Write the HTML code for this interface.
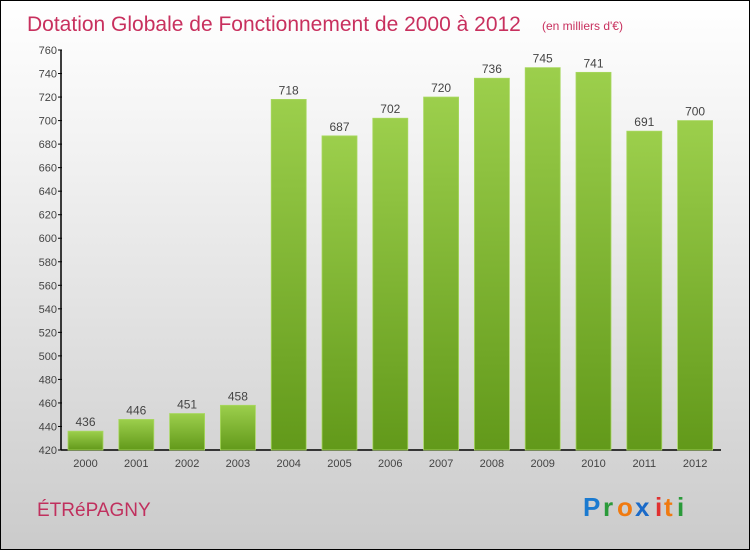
<!DOCTYPE html>
<html><head><meta charset="utf-8"><style>
body{margin:0}
#c{position:relative;width:748px;height:548px;border:1px solid #000;background:linear-gradient(#fff,#f3f3f3 25%,#cbcbcb);font-family:"Liberation Sans",sans-serif;overflow:hidden}
</style></head><body>
<div id="c">
<svg width="748" height="548" id="svg">
<defs>
<linearGradient id="g" x1="0" y1="0" x2="0" y2="1"><stop offset="0" stop-color="#9ccf4c"/><stop offset="1" stop-color="#62991a"/></linearGradient>
</defs>
<text x="26" y="30" font-size="21" fill="#c8305e">Dotation Globale de Fonctionnement de 2000 à 2012</text>
<text x="541" y="29" font-size="12" fill="#c8305e">(en milliers d'€)</text>
<text x="36" y="515" font-size="19" fill="#c0305e">ÉTRéPAGNY</text>
<g font-size="26" font-weight="bold">
<text x="582" y="515" fill="#1a7ad0">P</text><text x="602" y="515" fill="#2a9a3a">r</text><text x="616" y="515" fill="#f07a10">o</text><text x="634" y="515" fill="#1a6ac8">x</text><text x="654" y="515" fill="#e03030">i</text><text x="663" y="515" fill="#f07a10">t</text><text x="676" y="515" fill="#2a9a3a">i</text>
</g>
<g id="plot"></g>
</svg>
</div>
<script>
const years=["2000","2001","2002","2003","2004","2005","2006","2007","2008","2009","2010","2011","2012"];
const values=[436,446,451,458,718,687,702,720,736,745,741,691,700];
const yTicks=[420,440,460,480,500,520,540,560,580,600,620,640,660,680,700,720,740,760];
const NS="http://www.w3.org/2000/svg";
const g=document.getElementById('plot');
const y0=449,y1=49,vmin=420,vmax=760;
const yS=v=>y0-(v-vmin)/(vmax-vmin)*(y0-y1);
const x0=67,step=50.8,bw=35;
const xS=i=>x0+i*step;
function mk(t,a){const e=document.createElementNS(NS,t);for(const k in a)e.setAttribute(k,a[k]);g.appendChild(e);return e;}
let ax=mk('line',{x1:60,y1:y0,x2:60,y2:y1,stroke:'#000','stroke-width':1.5});


let bx=mk('line',{x1:60,y1:y0,x2:720,y2:y0,stroke:'#000','stroke-width':1.5});


yTicks.forEach(v=>{
 const y=yS(v);
 const tk=mk('line',{x1:57,x2:61,y1:y,y2:y,stroke:'#000'});
 
 
 const t=mk('text',{x:56,y:y+4,'font-size':11,fill:'#444','text-anchor':'end'});
 t.textContent=v;
 
 
});
values.forEach((v,i)=>{
 const x=xS(i),y=yS(v);
 const r=mk('rect',{x:x,y:y,width:bw,height:y0-y,fill:'url(#g)',stroke:'#a8d860','stroke-width':0.8});
 
 
 const t=mk('text',{x:x+bw/2,y:y-5,'font-size':12,fill:'#444','text-anchor':'middle'});
 t.textContent=v;
 
 
 const l=mk('text',{x:x+bw/2,y:466,'font-size':11,fill:'#444','text-anchor':'middle'});
 l.textContent=years[i];
 
 
});
</script>
</body></html>
